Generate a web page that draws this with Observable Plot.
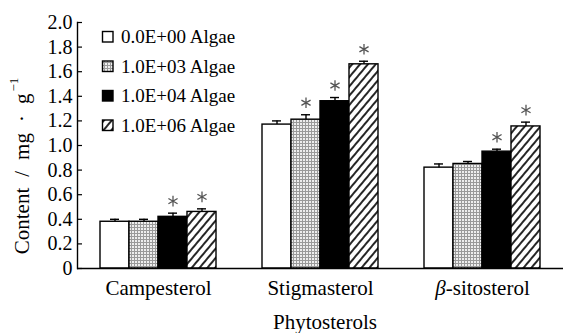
<!DOCTYPE html>
<html><head><meta charset="utf-8">
<script src="https://cdn.jsdelivr.net/npm/d3@7"></script>
<script src="https://cdn.jsdelivr.net/npm/@observablehq/plot@0.6"></script>
<style>
body{margin:0;background:#fff;}
#chart svg{font-family:"Liberation Serif","Times New Roman",serif;}
</style></head><body><div id="chart"></div>
<script>
const categories = ["Campesterol", "Stigmasterol", "β-sitosterol"];
const series = ["0.0E+00 Algae", "1.0E+03 Algae", "1.0E+04 Algae", "1.0E+06 Algae"];
const campesterol = [0.38, 0.38, 0.42, 0.46];
const campesterolErr = [0.02, 0.02, 0.03, 0.025];
const campesterolSig = [false, false, true, true];
const stigmasterol = [1.17, 1.21, 1.36, 1.66];
const stigmasterolErr = [0.03, 0.04, 0.03, 0.025];
const stigmasterolSig = [false, true, true, true];
const sitosterol = [0.82, 0.85, 0.95, 1.155];
const sitosterolErr = [0.03, 0.02, 0.02, 0.035];
const sitosterolSig = [false, false, true, true];
const yTicks = [0, 0.2, 0.4, 0.6, 0.8, 1.0, 1.2, 1.4, 1.6, 1.8, 2.0];
const fills = ["#fff", "url(#stipple)", "#000", "url(#hatch)"];

const vals = [campesterol, stigmasterol, sitosterol];
const errs = [campesterolErr, stigmasterolErr, sitosterolErr];
const sigs = [campesterolSig, stigmasterolSig, sitosterolSig];
const rows = [];
categories.forEach((c, ci) => series.forEach((s, si) => rows.push({
  category: c, series: s, value: vals[ci][si], err: errs[ci][si], sig: sigs[ci][si], fill: fills[si]
})));

const plot = Plot.plot({
  width: 563, height: 333,
  marginLeft: 77, marginRight: 0, marginTop: 22, marginBottom: 65,
  style: {fontFamily: "'Liberation Serif', 'Times New Roman', serif", fontSize: "20px", color: "#000", background: "#fff", overflow: "visible"},
  fx: {domain: categories, padding: 0, label: null},
  x: {domain: series, paddingInner: 0, paddingOuter: 0.7, axis: null},
  y: {domain: [0, 2], label: null},
  color: {type: "identity"},
  marks: [
    Plot.barY(rows, {fx: "category", x: "series", y: "value", fill: "fill", stroke: "#000", strokeWidth: 1.4}),
    Plot.ruleX(rows, {fx: "category", x: "series", y1: "value", y2: d => d.value + d.err, stroke: "#000", strokeWidth: 1.4}),
    Plot.tickY(rows, {fx: "category", x: "series", y: d => d.value + d.err, insetLeft: 10, insetRight: 10, stroke: "#000", strokeWidth: 1.4}),
    Plot.dot(rows.filter(d => d.sig), {fx: "category", x: "series", y: d => d.value + d.err, symbol: "asterisk", r: 5, dy: -12, stroke: "#555", strokeWidth: 1.3}),
    Plot.ruleY([0], {stroke: "#000", strokeWidth: 1.4}),
    Plot.frame({anchor: "left", facetAnchor: "left", stroke: "#000", strokeWidth: 1.4}),
    Plot.axisY({ticks: yTicks, tickFormat: d => d === 0 ? "0" : d.toFixed(1), tickSize: -5, tickPadding: 10, label: null, fontSize: 20, stroke: "#000", strokeWidth: 1.2}),
    Plot.axisFx({anchor: "bottom", tickSize: 0, tickPadding: 12, label: null, fontSize: 21})
  ]
});
document.getElementById("chart").appendChild(plot);

const svg = d3.select(plot);
const defs = svg.insert("defs", ":first-child");
const st = defs.append("pattern").attr("id", "stipple").attr("patternUnits", "userSpaceOnUse").attr("width", 3).attr("height", 3);
st.append("rect").attr("width", 3).attr("height", 3).attr("fill", "#9a9a9a");
st.append("rect").attr("width", 2).attr("height", 2).attr("fill", "#eeeeee");
const ht = defs.append("pattern").attr("id", "hatch").attr("patternUnits", "userSpaceOnUse").attr("width", 6).attr("height", 6).attr("patternTransform", "rotate(40)");
ht.append("rect").attr("width", 6).attr("height", 6).attr("fill", "#fff");
ht.append("line").attr("x1", 1).attr("y1", 0).attr("x2", 1).attr("y2", 6).attr("stroke", "#000").attr("stroke-width", 1.7);

// italic beta
svg.selectAll("text").each(function() {
  const t = d3.select(this);
  if (t.text() === "β-sitosterol") {
    t.text("");
    t.append("tspan").attr("font-style", "italic").text("β");
    t.append("tspan").text("-sitosterol");
  }
});

// y label
const yl = svg.append("text").attr("transform", "translate(29,166) rotate(-90)").attr("text-anchor", "middle").attr("font-size", 21).attr("fill", "#000");
yl.append("tspan").text("Content");
yl.append("tspan").attr("dx", 11).text("/");
yl.append("tspan").attr("dx", 11).text("mg");
yl.append("tspan").attr("dx", 11).text("·");
yl.append("tspan").attr("dx", 11).text("g");
yl.append("tspan").attr("font-size", 13).attr("dx", 2).attr("dy", -11).text("−1");

// x title
svg.append("text").attr("x", 325).attr("y", 329).attr("text-anchor", "middle").attr("font-size", 21).attr("fill", "#000").text("Phytosterols");

// legend
const lg = svg.append("g").attr("text-anchor", "start");
series.forEach((s, i) => {
  const y = 37 + i * 29.5;
  lg.append("rect").attr("x", 102.5).attr("y", y - 5.5).attr("width", 10.5).attr("height", 10.5).attr("fill", fills[i]).attr("stroke", "#000").attr("stroke-width", 1.4);
  lg.append("text").attr("x", 121).attr("y", y).attr("dy", "0.33em").attr("font-size", 19).attr("fill", "#000").text(s);
});
</script></body></html>
